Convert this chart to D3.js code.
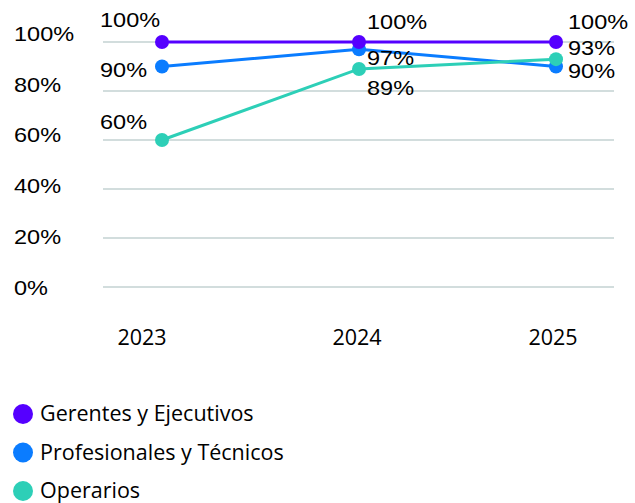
<!DOCTYPE html>
<html>
<head>
<meta charset="utf-8">
<script src="https://cdn.jsdelivr.net/npm/d3@7"></script>
<style>
  html, body { margin: 0; padding: 0; background: #fff; }
  svg { display: block; }
</style>
</head>
<body>
<svg id="chart" width="635" height="503"></svg>
<script>
// Years on the x axis
const years = ["2023", "2024", "2025"];

// Percentage per group and year
const gerentes = [100, 100, 100];
const profesionales = [90, 97, 90];
const operarios = [60, 89, 93];

// Series names (legend order)
const seriesNames = ["Gerentes y Ejecutivos", "Profesionales y Técnicos", "Operarios"];

// Y axis tick values and labels
const yTicks = [0, 20, 40, 60, 80, 100];
const yTickLabels = ["0%", "20%", "40%", "60%", "80%", "100%"];

const colors = ["#5500ff", "#0a7cff", "#2dcfb7"];

// Value label placement per year (horizontal) and per series/year (vertical nudges)
const labelDx = [-62, 8, 12];
const labelDy = [
  [-15, -13, -13],
  [10, 16, 11],
  [-11, 26, -4]
];
// Small horizontal nudges of the year labels
const yearDx = [-20, -2, -3];

const series = seriesNames.map((name, i) => ({
  name,
  color: colors[i],
  values: [gerentes, profesionales, operarios][i],
  dy: labelDy[i]
}));

const svg = d3.select("#chart");

const x = d3.scalePoint().domain(years).range([162, 556]);
const y = d3.scaleLinear().domain([0, 100]).range([287, 42]);
const yLabel = d3.scaleLinear().domain([0, 100]).range([287, 33.5]);

const numFont = "'Liberation Sans', Arial, Helvetica, sans-serif";
const textFont = "'Open Sans', 'Noto Sans', sans-serif";

// Gridlines
svg.append("g")
  .selectAll("line")
  .data(yTicks)
  .join("line")
  .attr("x1", 103)
  .attr("x2", 614)
  .attr("y1", d => y(d))
  .attr("y2", d => y(d))
  .attr("stroke", "#d2dddd")
  .attr("stroke-width", 2);

// Y axis labels
svg.append("g")
  .selectAll("text")
  .data(yTicks)
  .join("text")
  .attr("transform", d => `translate(14,${yLabel(d)}) scale(1.12,1)`)
  .attr("dy", "0.36em")
  .attr("font-family", numFont)
  .attr("font-size", 21)
  .attr("fill", "#000")
  .text((d, i) => yTickLabels[i]);

// X axis labels
svg.append("g")
  .selectAll("text")
  .data(years)
  .join("text")
  .attr("x", (d, i) => x(d) + yearDx[i])
  .attr("y", 345)
  .attr("text-anchor", "middle")
  .attr("font-family", textFont)
  .attr("font-size", 21.5)
  .attr("fill", "#000")
  .text(d => d);

const line = d3.line()
  .x((d, i) => x(years[i]))
  .y(d => y(d));

// Draw order: blue, teal, purple on top
const drawOrder = [1, 2, 0];
const gSeries = svg.append("g");
drawOrder.forEach(k => {
  const s = series[k];
  const g = gSeries.append("g");
  g.append("path")
    .datum(s.values)
    .attr("d", line)
    .attr("fill", "none")
    .attr("stroke", s.color)
    .attr("stroke-width", 3);
  g.selectAll("circle")
    .data(s.values)
    .join("circle")
    .attr("cx", (d, i) => x(years[i]))
    .attr("cy", d => y(d))
    .attr("r", 7)
    .attr("fill", s.color);
});

// Value labels
series.forEach(s => {
  svg.append("g")
    .selectAll("text")
    .data(s.values)
    .join("text")
    .attr("transform", (d, i) => `translate(${x(years[i]) + labelDx[i]},${y(d) + s.dy[i]}) scale(1.12,1)`)
    .attr("font-family", numFont)
    .attr("font-size", 21)
    .attr("fill", "#000")
    .text(d => d + "%");
});

// Legend
const legend = svg.append("g")
  .selectAll("g")
  .data(series)
  .join("g")
  .attr("transform", (d, i) => `translate(23,${414 + i * 38.5})`);

legend.append("circle")
  .attr("r", 10)
  .attr("fill", d => d.color);

legend.append("text")
  .attr("x", 17)
  .attr("y", 7)
  .attr("font-family", textFont)
  .attr("font-size", 21.5)
  .attr("font-weight", 500)
  .attr("fill", "#000")
  .text(d => d.name);
</script>
</body>
</html>
